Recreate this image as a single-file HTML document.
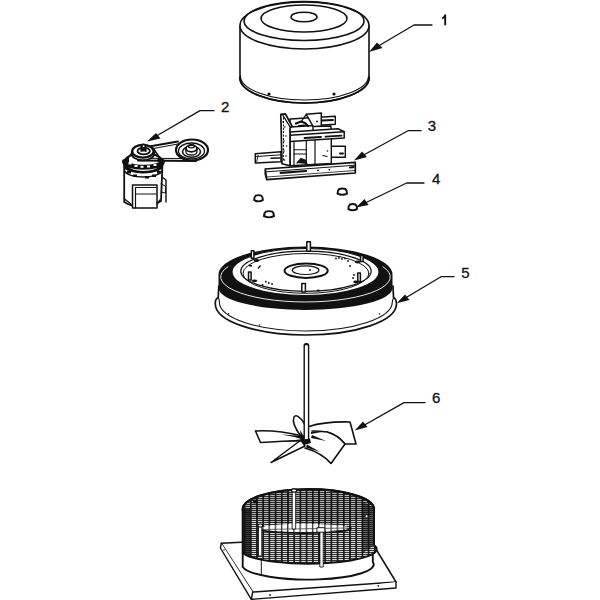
<!DOCTYPE html>
<html><head><meta charset="utf-8">
<style>
html,body{margin:0;padding:0;background:#fff;width:600px;height:600px;overflow:hidden}
svg{display:block}

</style></head><body>
<svg width="600" height="600" viewBox="0 0 600 600">
<defs>
<pattern id="mesh" x="1.9" y="0" width="6.2" height="2" patternUnits="userSpaceOnUse">
<rect width="6.2" height="2" fill="#eee"/>
<rect y="0" width="6.2" height="1.1" fill="#333"/>
<rect x="0" width="1.8" height="2" fill="#1a1a1a"/>
</pattern>
<pattern id="vbars" x="1.9" y="0" width="6.2" height="4" patternUnits="userSpaceOnUse">
<rect width="6.2" height="4" fill="#fff"/>
<rect x="0" width="1.3" height="4" fill="#333"/>
</pattern>
</defs>
<g fill="none" stroke="#111" stroke-width="1.6" stroke-linecap="round" stroke-linejoin="round">

<!-- PART 1 : cap -->
<g id="p1">
<path d="M240,26 L240,77.5 A64.5,25.5 0 0 0 369,77.5 L369,26" fill="#fff"/>
<ellipse cx="304.5" cy="25.5" rx="64.5" ry="23.5" fill="#fff"/>
<ellipse cx="304" cy="21" rx="60" ry="19.5"/>
<ellipse cx="304" cy="18.5" rx="43" ry="13.5"/>
<ellipse cx="304" cy="17" rx="13" ry="4.8"/>
<path d="M240.5,76 A64,24 0 0 0 368.5,76" stroke-width="1.1"/>
<path d="M239.7,77.5 A64.8,25.5 0 0 0 369.3,77.5" stroke-width="1.7"/>
<circle cx="269" cy="94" r="0.8" fill="#111"/>
<circle cx="334" cy="94" r="0.8" fill="#111"/>
</g>



<!-- PART 2 : motor -->
<g id="p2">
<path d="M124,162 L124,202 Q142,213 160.5,201 L162,162 Z" fill="#fff" stroke="none"/>
<path d="M124.2,161 L124.2,202 Q142,213 161,201 L162.5,163" stroke-width="1.8"/>
<path d="M162,177 L166,180 L166,202" stroke-width="1.4"/>
<path d="M161,184 L165.5,186 L165.5,193 L161,192" stroke-width="1"/>
<rect x="132.5" y="185" width="24.5" height="23" fill="#fff" stroke-width="1.5"/>
<path d="M135.5,208 L135.5,187.5 L156,187.5 M135.5,194 L156,194" stroke-width="1.2"/>
<path d="M124.5,199 L131,204 M157,204 L160,200" stroke-width="1.3"/>
<ellipse cx="143.5" cy="162.5" rx="19.3" ry="9.5" fill="#fff" stroke-width="2"/>
<path d="M124.5,161.5 A19,5.8 0 0 0 162.5,161.5" stroke-width="5"/>
<path d="M124.5,166.5 A19,7.2 0 0 0 162,166.5" stroke-width="2"/>
<path d="M124.8,171 A18.5,7 0 0 0 161.5,171" stroke-width="1.5"/>
<g fill="#fff" stroke="none">
<rect x="128.5" y="162.5" width="3" height="2"/><rect x="134.5" y="165" width="3" height="2"/>
<rect x="140.5" y="165.8" width="3" height="2"/><rect x="147" y="165.5" width="3" height="2"/>
<rect x="153.5" y="164" width="3" height="2"/>
</g>
<g fill="#111" stroke="none">
<rect x="127" y="171" width="4" height="2.5"/><rect x="133" y="174.5" width="4" height="2.5"/>
<rect x="145" y="176" width="4" height="2.5"/><rect x="152" y="174.5" width="4" height="2.5"/>
<rect x="157" y="171" width="3.5" height="2.5"/>
<rect x="125" y="158" width="4" height="4"/><rect x="157.5" y="158" width="4" height="4"/>
</g>
<path d="M126,160 L133,152 M160.5,159 L153,148" stroke-width="1.6"/>
<ellipse cx="142.9" cy="153.5" rx="11.3" ry="6.8" fill="#fff" stroke-width="1.8"/>
<ellipse cx="142.9" cy="151.3" rx="10.7" ry="6.4" fill="#fff" stroke-width="2.3"/>
<ellipse cx="143.7" cy="151" rx="6.2" ry="3.4" fill="#fff" stroke-width="1.8"/>
<path d="M141,151.5 L141,149 L146,149 L146,151.5" fill="#111" stroke-width="1.2"/>
<circle cx="143.5" cy="146.4" r="2.9" fill="#111" stroke="none"/>
<circle cx="143.6" cy="146.2" r="0.9" fill="#fff" stroke="none"/>
<!-- belt -->
<path d="M150.5,146.3 L178,141.5" stroke-width="2"/>
<path d="M152,148.8 L178,144" stroke-width="1"/>
<path d="M138,160.5 L196,161" stroke-width="2"/>
<path d="M150,158.3 L183,158.5" stroke-width="1"/>
<ellipse cx="192" cy="150" rx="16" ry="10.5" fill="#fff" stroke-width="2.2"/>
<ellipse cx="191.5" cy="151" rx="13" ry="8" stroke-width="1.3"/>
<ellipse cx="191.5" cy="151.8" rx="9" ry="5.5" stroke-width="1.6"/>
<ellipse cx="191.4" cy="148.5" rx="5.5" ry="3.3" fill="#fff" stroke-width="1.8"/>
<ellipse cx="191.4" cy="146.3" rx="3" ry="1.6" stroke-width="1.2"/>
<path d="M185.9,148.5 L185.9,152 A5.5,3 0 0 0 196.9,152 L196.9,148.5" stroke-width="1.3"/>
</g>

<!-- PART 3 : bracket -->
<g id="p3">
<path d="M255.3,153.7 L281,151.7 L281,161.7 L255.3,163 Z" fill="#fff" stroke-width="1.5"/>
<path d="M258,155.5 L256.8,161.5" stroke-width="0.9"/>
<path d="M271,158.3 L280,158" stroke-width="1.6"/>
<path d="M256.5,156.5 L281,154.8" stroke-width="1"/>
<path d="M290,119 L335.3,116.3 L335.3,124.3 L290,127 Z" fill="#fff" stroke-width="1.4"/>
<path d="M322,120.5 L333,120" stroke-width="1.8"/>
<path d="M306.2,114.3 L321.3,113 L321.3,126.3 L313.5,127 Z" fill="#fff" stroke-width="1.5"/>
<path d="M306.2,114.3 L301,122" stroke-width="1.3"/>
<circle cx="317" cy="121.5" r="0.9" fill="#111" stroke="none"/>
<path d="M296,123.5 L301,121.5 L305,123 L308,126 M299,126 L304,125.5" stroke-width="2.2"/>
<path d="M331.3,146.3 L345.3,146.3 L345.3,157.3 L331.3,157.3" fill="#fff" stroke-width="1.4"/>
<path d="M340,153.5 L343,153.5" stroke-width="2"/>
<path d="M290,141.6 L290,165.7 L331.3,163.5 L331.3,138.5" fill="#fff" stroke-width="1.4"/>
<path d="M294,141.5 L294,165.5 M306.3,141 L306.3,165 M315,140 L315,164.3" stroke-width="1.2"/>
<path d="M294,149.75 L306.3,149.75 M294,154 L306.3,154" stroke-width="1"/>
<circle cx="327.5" cy="151" r="0.8" fill="#111" stroke="none"/>
<path d="M323,155.5 L327,156.5" stroke-width="1.2"/>
<path d="M313,131 L313,126.5 L331,126 L331,130" fill="#fff" stroke-width="1.4"/>
<path d="M290,132 L338,128.8 L344.2,131.7 L344.2,138 L290,141.6 Z" fill="#fff" stroke-width="1.5"/>
<path d="M290,135.2 L344.2,131.7" stroke-width="1.6"/>
<path d="M304.5,138 L321,137 M325.5,136.6 L341.5,135.7" stroke-width="1.8"/>
<path d="M280.8,114.25 L285.4,113.8 L292,126 L290,128 L290,165.7 L282,163.7 Z" fill="#fff" stroke-width="1.7"/>
<path d="M283,115.5 L290.5,127.5" stroke-width="1.4"/>
<path d="M283.5,118 L283.5,162" stroke-width="1" stroke-dasharray="1.2,2.2"/>
<g fill="#111" stroke="none">
<circle cx="283" cy="122" r="0.8"/><circle cx="284.8" cy="127" r="0.8"/><circle cx="283.5" cy="132" r="0.8"/>
<circle cx="286" cy="136" r="0.8"/><circle cx="284" cy="141" r="0.8"/><circle cx="286.5" cy="146" r="0.8"/>
<circle cx="284" cy="151" r="0.8"/><circle cx="286" cy="156" r="0.8"/><circle cx="284.5" cy="160" r="0.8"/>
</g>
<path d="M297,163 L301,158.5 L305,160 L307,164" fill="#111" stroke-width="1.2"/>
<path d="M265.3,169 L355.3,162.3 L355.3,173 L266.7,179.7 Z" fill="#fff" stroke-width="1.7"/>
<path d="M265.3,169 Q263.5,174 266.7,179.7" stroke-width="1"/>
<path d="M280.7,172.8 L306,171" stroke-width="2.2"/>
<path d="M266.5,171.8 L355,165.2" stroke-width="1"/>
<path d="M267,177 L355,170.5" stroke-width="0.8"/>
<path d="M350,167.5 L353.5,167.2" stroke-width="2.2"/>
<circle cx="318" cy="170.3" r="0.9" fill="#111" stroke="none"/>
<circle cx="329.3" cy="169.7" r="0.9" fill="#111" stroke="none"/>
</g>

<!-- PART 4 : nuts -->
<g id="p4" stroke-width="1.9" fill="#fff">
<path transform="translate(258.5,198.6)" d="M-4.3,1.6 Q-4.5,-1.5 -2.8,-3 Q0,-4 2.8,-3 Q4.5,-1.5 4.3,1.6 Q0,4 -4.3,1.6 Z"/>
<path transform="translate(269,214.6) scale(1.15,1)" d="M-4.3,1.6 Q-4.5,-1.5 -2.8,-3 Q0,-4 2.8,-3 Q4.5,-1.5 4.3,1.6 Q0,4 -4.3,1.6 Z"/>
<path transform="translate(342.3,192) scale(1.1,1)" d="M-4.3,1.6 Q-4.5,-1.5 -2.8,-3 Q0,-4 2.8,-3 Q4.5,-1.5 4.3,1.6 Q0,4 -4.3,1.6 Z"/>
<path transform="translate(352.7,207.5)" d="M-4.3,1.6 Q-4.5,-1.5 -2.8,-3 Q0,-4 2.8,-3 Q4.5,-1.5 4.3,1.6 Q0,4 -4.3,1.6 Z"/>
</g>

<!-- PART 7 : guard + base -->
<g id="p7">
<path d="M221.3,543.3 L368,536 L396,582 L252.7,592 Z" fill="#fff" stroke-width="1.5"/>
<path d="M221.3,543.3 L220.4,548 L251.3,599.3 L252.7,592 M251.3,599.3 L396,588 L396,582" fill="#fff" stroke-width="1.4"/>
<circle cx="270" cy="595" r="0.9" fill="#111" stroke="none"/>
<circle cx="378.3" cy="585.8" r="0.9" fill="#111" stroke="none"/>
<circle cx="224" cy="550" r="0.7" fill="#111" stroke="none"/>
<path d="M242.7,553 L242.7,567 A65.4,15 0 0 0 372.8,562 L372.8,545" fill="#fff" stroke-width="1.9"/>
<path d="M261.3,553 L261.3,575" stroke-width="1"/>
<path d="M242.7,510 L242.7,553 A65.4,14 0 0 0 374,545 L374,508.5 A65.6,20 0 0 0 242.7,510 Z" fill="url(#mesh)" stroke-width="2"/>
<path d="M242.7,510 L242.7,553 A65.4,13.5 0 0 0 250,558 L250,508 Z" fill="#111" opacity="0.8" stroke="none"/>
<path d="M374,508.5 L374,545 L362,554 L362,501 Z" fill="#111" opacity="0.6" stroke="none"/>
<path d="M244,511 A64.5,19.5 0 0 1 373,509.5 A64.5,15 0 0 1 244,511 Z" fill="#000" opacity="0.18" stroke="none"/>
<path d="M259,529 A46,5 0 0 1 348,527 A46,4.5 0 0 1 259,529 Z" fill="url(#vbars)" stroke="none"/>

<path d="M262,529.5 L348,528" stroke="#444" stroke-width="0.8"/>
<path d="M259,529.5 A46,4.6 0 0 0 350,527.5" stroke-width="1.6"/>
<path d="M242.7,510 A65.6,20 0 0 1 374,508.5" stroke-width="2.2"/>
<g stroke-width="0.9" fill="#fff">
<rect x="292.5" y="490" width="3.2" height="39"/>
<rect x="258.8" y="525" width="3" height="31"/>
<rect x="320.2" y="528" width="3" height="39"/>
<rect x="317.3" y="527.7" width="7.5" height="4.5"/>
<rect x="254" y="500" width="3" height="3" fill="#111"/>
</g>
<circle cx="366.7" cy="516.3" r="1.6" fill="#fff" stroke="#111" stroke-width="0.9"/>
<ellipse cx="294.1" cy="490.5" rx="2.6" ry="1.6" fill="#fff" stroke="#111" stroke-width="1.1"/>
<ellipse cx="260.3" cy="525.5" rx="2.4" ry="1.5" fill="#fff" stroke="#111" stroke-width="1.1"/>
</g>

<!-- PART 5 : damper housing -->
<g id="p5">
<path d="M218.8,286 L218.2,297.5 Q215,299 215.3,304 A90.6,31 0 0 0 396.5,304 Q396.5,299 393.5,297.5 L393,286 Z" fill="#fff" stroke="none"/>
<path d="M218.8,286 L218.2,297.5 Q215,299 215.3,304 A90.6,31 0 0 0 396.5,304 Q396.5,299 393.5,297.5 L393,286" stroke-width="1.7"/>

<path d="M218.6,298.5 Q219.5,300 219.3,302 A86.5,29 0 0 0 392.3,302 Q392.5,300 393.3,298.5" stroke-width="1.1"/>
<path d="M218.5,274.5 A87,28 0 0 1 392.5,274.5 L392.5,288 A87,22 0 0 1 218.5,288 Z M232,272 A73.5,23.5 0 0 0 379,272 A73.5,23.5 0 0 0 232,272 Z" fill="#111" fill-rule="evenodd" stroke="none"/>
<path d="M228,266.7 A85,25 0 1 0 383,266.7" stroke="#fff" stroke-width="0.9"/>
<ellipse cx="305.5" cy="272" rx="73.5" ry="23.5" fill="#fff" stroke="#111" stroke-width="1.2"/>
<ellipse cx="306" cy="271.25" rx="65.2" ry="20.05" stroke-width="1.2"/>
<ellipse cx="306" cy="273.4" rx="63" ry="19.9" stroke-width="1"/>
<ellipse cx="306.15" cy="270.7" rx="21.6" ry="7.2" stroke-width="2"/>
<ellipse cx="305.6" cy="270.15" rx="13.3" ry="4.35" stroke-width="1.2"/>
<circle cx="310" cy="270" r="0.9" fill="#111" stroke="none"/>
<circle cx="228.7" cy="313.7" r="0.8" fill="#111" stroke="none"/>
<circle cx="259.5" cy="325" r="0.8" fill="#111" stroke="none"/>
<circle cx="379.5" cy="314" r="0.8" fill="#111" stroke="none"/>
<!-- posts -->
<g stroke-width="1.5" fill="#fff">
<rect x="306.8" y="241.8" width="3.6" height="9.5"/>
<rect x="301.8" y="283.5" width="3.6" height="8.5"/>
<rect x="248.5" y="272" width="2.6" height="8"/>
<rect x="251.3" y="250.8" width="2.6" height="7.5"/>
<rect x="357.8" y="273" width="2.6" height="8.5"/>
<rect x="360.5" y="255.5" width="2.6" height="6"/>
</g>
<g fill="#111" stroke="none">
<ellipse cx="254.5" cy="280.8" rx="2.8" ry="1.4"/>
<ellipse cx="256.5" cy="260.5" rx="2.8" ry="1.4"/>
<ellipse cx="356" cy="282" rx="2.8" ry="1.4"/>
<ellipse cx="357.5" cy="262" rx="2.8" ry="1.4"/>
<ellipse cx="318.3" cy="290.4" rx="1.6" ry="1"/>
<rect x="249" y="265" width="3" height="1.5"/>
<path d="M257.5,268 L260,265 L261,266 L258.5,269 Z"/>
<circle cx="262.5" cy="285" r="1"/><circle cx="265.8" cy="281.7" r="0.9"/>
<circle cx="268.75" cy="283" r="0.9"/><circle cx="272" cy="284" r="0.9"/>
<circle cx="339" cy="258" r="0.9"/><circle cx="342" cy="259" r="0.9"/>
<circle cx="345" cy="258.5" r="0.9"/><circle cx="348" cy="261" r="0.9"/>
<circle cx="353" cy="278" r="0.9"/><circle cx="354" cy="275" r="0.9"/>
<circle cx="336" cy="258.5" r="0.9"/><circle cx="350" cy="266" r="0.9"/>
</g>
</g>


<!-- PART 6 : shaft + fan -->
<g id="p6">
<path d="M255.5,431 C270,430 288,432.5 303,436 L302,440.5 C286,441 272,442 260.5,442.5 Z" fill="#fff"/>
<path d="M271,462.5 L301,440 L305,446 Z" fill="#fff" stroke-width="1.4"/>
<path d="M301,436 C296,430 292,422 294,417 C296,414 300,417 304,423" fill="#fff" stroke-width="1.5"/>
<path d="M309,426.5 C320,423 333,421.5 350,422 L356,444 L345,444 C340,438 333,433.5 327,432 C320,431 316,431 312,431" fill="#fff"/>
<path d="M305,448 C315,451 324,455 331,463.5 L345,444 C340,438 333,433.5 327,432" fill="#fff"/>
<path d="M304.2,440 L304.2,345.8 Q304.2,343.6 306.4,343.6 Q308.6,343.6 308.6,345.8 L308.6,440" fill="#fff" stroke-width="1.4"/>
<path d="M304.6,344.8 Q306.4,343.4 308.2,344.8" stroke-width="1.6"/>
<g fill="#111" stroke="none">
<path d="M281,434.5 L304,436 L303,438.5 Z"/>
<path d="M283,441.5 L303,439 L303,441.5 Z"/>
<path d="M292,436 L304,437 L304,440 Z"/>
<path d="M311,432 L327,431 L311,434 Z"/>
<path d="M312,435 L326,441 L311,438 Z"/>
<path d="M307,444.5 L320,452 L306,447.5 Z"/>
<path d="M300,440 L310,438.5 L311,443 L304,445 Z"/>
<path d="M300,430 L303.7,436 L303.7,440 L301,438 Z"/>
</g>
</g>

<!-- leaders -->
<g id="leaders" stroke-width="1.3">
<path d="M432,25 L414,25 L375,48"/>
<path d="M214,110.6 L200,110.6 L153,138"/>
<path d="M421,130.7 L408,130.7 L360,157"/>
<path d="M424,183 L406.6,183 L362,204.5"/>
<path d="M454,276.7 L441,276.7 L402,300"/>
<path d="M425,402.6 L404,402.6 L361,427"/>
</g>
<g fill="#111" stroke="none">
<path d="M369,52 L377,42.5 L382.5,48 Z"/>
<path d="M147,141.6 L156,133 L160.5,138.5 Z"/>
<path d="M354,160.5 L362,151.5 L367,157 Z"/>
<path d="M356,207.6 L364.5,199 L368.5,205 Z"/>
<path d="M396.7,303.3 L405,294.5 L409.5,300 Z"/>
<path d="M354.7,430.5 L363,421.5 L367.5,427 Z"/>
</g>

</g>
<path d="M442.2,18.3 Q444.6,17.2 445.2,15.2 L445.2,25.3" fill="none" stroke="#111" stroke-width="1.9" stroke-linecap="butt" stroke-linejoin="round"/>
<g id="labels" style="font-family:'Liberation Sans',sans-serif;font-size:15px" fill="#111" stroke="#111" stroke-width="0.3">
<text x="221.0" y="112.0">2</text>
<text x="427.8" y="131.0">3</text>
<text x="431.9" y="184.4">4</text>
<text x="461.3" y="277.6">5</text>
<text x="432.1" y="403.4">6</text>
</g>
</svg>
</body></html>
